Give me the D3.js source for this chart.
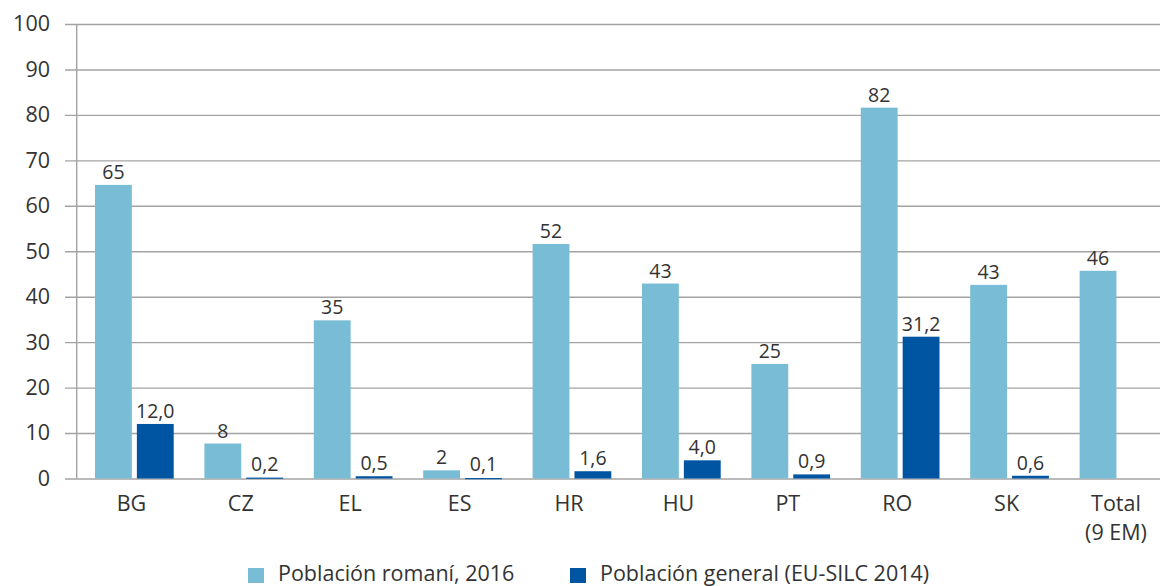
<!DOCTYPE html>
<html>
<head>
<meta charset="utf-8">
<script src="https://cdn.jsdelivr.net/npm/d3@7"></script>
<style>
  body { margin: 0; background: #fff; }
  svg text { font-family: "Open Sans", sans-serif; fill: #333; }
</style>
</head>
<body>
<svg id="chart" width="1160" height="586"></svg>
<script>
// data
var categories = ["BG", "CZ", "EL", "ES", "HR", "HU", "PT", "RO", "SK", "Total|(9 EM)"];
var seriesNames = ["Población romaní, 2016", "Población general (EU-SILC 2014)"];
var romaValues = [64.6, 7.7, 34.8, 1.8, 51.6, 42.9, 25.2, 81.6, 42.6, 45.7];
var generalValues = [12.0, 0.2, 0.5, 0.1, 1.6, 4.0, 0.9, 31.2, 0.6, null];
var yTicks = [0, 10, 20, 30, 40, 50, 60, 70, 80, 90, 100];
var colors = ["#78bdd5", "#0055a2"];

var svg = d3.select("#chart");
var locale = d3.formatLocale({ decimal: ",", thousands: ".", grouping: [3], currency: ["", "€"] });
var fmtInt = locale.format(".0f"), fmtDec = locale.format(".1f");

var axisX = 76.7, step = 109.4;
var x0 = d3.scaleBand().domain(categories).range([axisX, axisX + step * categories.length]);
var x1 = d3.scaleBand().domain([0, 1]).range([18.3, 97]).paddingInner(0.12);
var y = d3.scaleLinear().domain([0, 100]).range([478.5, 24]);

// gridlines + y labels
var gy = svg.append("g").attr("transform", "translate(65,0)")
    .call(d3.axisLeft(y).tickValues(yTicks).tickSize(-(1160 - 65)).tickPadding(15));
gy.select(".domain").remove();
gy.selectAll(".tick line").attr("stroke", "#a3a3a3").attr("stroke-width", 1.4);
gy.selectAll(".tick text").attr("font-size", 21.5).attr("font-family", "Open Sans, sans-serif").attr("fill", "#333");

// vertical axis line
svg.append("line")
    .attr("x1", axisX).attr("x2", axisX)
    .attr("y1", y(100)).attr("y2", y(0))
    .attr("stroke", "#a3a3a3").attr("stroke-width", 1.4);

var rows = categories.map(function (c, i) {
    return { cat: c, vals: [romaValues[i], generalValues[i]] };
});

var groups = svg.append("g").selectAll("g")
    .data(rows).enter().append("g")
    .attr("transform", function (d) { return "translate(" + x0(d.cat) + ",0)"; });

var cells = groups.selectAll("g")
    .data(function (d) {
        return d.vals.map(function (v, k) { return { k: k, v: v }; })
            .filter(function (e) { return e.v != null; });
    })
    .enter().append("g");

cells.append("rect")
    .attr("x", function (d) { return x1(d.k); })
    .attr("width", x1.bandwidth())
    .attr("y", function (d) { return y(d.v); })
    .attr("height", function (d) { return Math.max(1.2, y(0) - y(d.v)); })
    .attr("fill", function (d) { return colors[d.k]; });

cells.append("text")
    .attr("x", function (d) { return x1(d.k) + x1.bandwidth() / 2; })
    .attr("y", function (d) { return Math.min(y(d.v), y(0) - 1.2) - 6; })
    .attr("text-anchor", "middle")
    .attr("font-size", 19.5)
    .text(function (d) { return d.k === 0 ? fmtInt(d.v) : fmtDec(d.v); });

// category labels (second line for "Total")
var cl = svg.append("g").selectAll("text")
    .data(categories).enter().append("text")
    .attr("x", function (d) { return x0(d) + x0.bandwidth() / 2; })
    .attr("y", 510.5)
    .attr("text-anchor", "middle")
    .attr("font-size", 21.5);
cl.selectAll("tspan")
    .data(function (d) { return d.split("|"); })
    .enter().append("tspan")
    .attr("x", function () { var p = this.parentNode.__data__; return x0(p) + x0.bandwidth() / 2; })
    .attr("dy", function (d, i) { return i === 0 ? 0 : 29; })
    .text(function (d) { return d; });

// legend
var legendX = [248, 570];
var lg = svg.append("g").selectAll("g")
    .data(seriesNames).enter().append("g")
    .attr("transform", function (d, i) { return "translate(" + legendX[i] + ",568)"; });
lg.append("rect").attr("width", 16).attr("height", 15)
    .attr("fill", function (d, i) { return colors[i]; });
lg.append("text").attr("x", 30).attr("y", 12.5).attr("font-size", 21.5)
    .text(function (d) { return d; });
</script>
</body>
</html>
